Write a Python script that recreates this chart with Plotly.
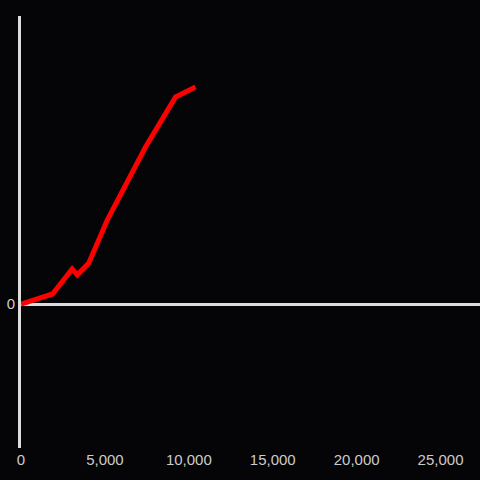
import plotly.graph_objects as go

x_values = [0, 1880, 3050, 3350, 4040, 5140, 7420, 9210, 10400]
y_values = [0, 100, 350, 290, 410, 840, 1570, 2070, 2170]
x_tick_vals = [0, 5000, 10000, 15000, 20000, 25000]
x_tick_text = ["0", "5,000", "10,000", "15,000", "20,000", "25,000"]
y_tick_vals = [0]
y_tick_text = ["0"]

bg = "#050407"
axis_col = "#dcdcdc"
label_col = "#cccccc"

fig = go.Figure()
fig.add_trace(go.Scatter(
    x=x_values, y=y_values, mode="lines",
    line=dict(color="#ff0000", width=5),
    showlegend=False, hoverinfo="skip",
))

fig.update_layout(
    width=480, height=480,
    paper_bgcolor=bg, plot_bgcolor=bg,
    margin=dict(l=21, r=0, t=16, b=32, autoexpand=False),
    font=dict(family="Liberation Sans, Arial, sans-serif", size=15, color=label_col),
    xaxis=dict(
        range=[0, 27350], showgrid=False, zeroline=False, showline=False,
        tickvals=x_tick_vals, ticktext=x_tick_text, ticks="",
        ticklabelstandoff=1,
        tickfont=dict(size=15, color=label_col),
    ),
    yaxis=dict(
        range=[-1440, 2880], showgrid=False,
        zeroline=True, zerolinecolor=axis_col, zerolinewidth=3,
        showline=True, linecolor=axis_col, linewidth=3,
        tickvals=y_tick_vals, ticktext=y_tick_text, ticks="",
        tickfont=dict(size=15, color=label_col),
    ),
)

fig.write_html(
    "out.html",
    include_plotlyjs=True,
    config={"displayModeBar": False, "staticPlot": True},
    post_script="document.body.style.margin='0';document.body.style.background='%s';" % bg,
)
